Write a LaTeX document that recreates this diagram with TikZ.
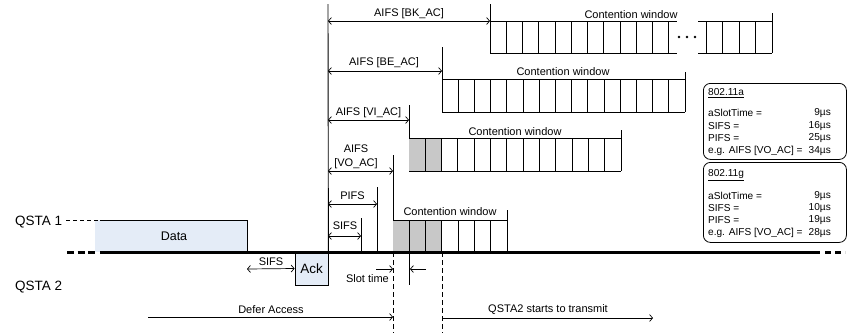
\documentclass[tikz,border=0pt]{standalone}
\usepackage{fontspec}
\setmainfont{Liberation Sans}
\usetikzlibrary{arrows.meta, positioning}

\definecolor{frame_blue}{HTML}{E4ECF7}
\definecolor{slot_gray}{HTML}{C8C8C8}

\begin{document}
\begin{tikzpicture}[x=1pt, y=-1pt,
        txt_sta/.style={font=\fontsize{13.5}{16}\selectfont, anchor=west, inner sep=0pt},
        txt_lbl/.style={font=\fontsize{11}{14}\selectfont, inner sep=0pt, align=center},
        txt_info/.style={font=\fontsize{10.1}{12}\selectfont, inner sep=0pt},
        box_frame/.style={draw, fill=frame_blue, line width=0.8pt, minimum width=33pt, minimum height=33pt, inner sep=0pt, font=\fontsize{13.5}{16}\selectfont},
        box_info/.style={draw, rounded corners=7pt, line width=0.8pt, minimum width=143pt, anchor=north west},
        cell_line/.style={line width=1pt},
        line_mark/.style={line width=0.9pt},
        line_busy/.style={line width=3pt},
        line_split/.style={line width=0.9pt, dash pattern=on 5pt off 3pt},
        arrow_dim/.style={{Straight Barb[length=3pt,width=7pt]}-{Straight Barb[length=3pt,width=7pt]}, line width=0.7pt},
        arrow_one/.style={-{Straight Barb[length=3pt,width=7pt]}, line width=0.7pt}
    ]
    \useasboundingbox (0,0) rectangle (847,333);

    % ==================== Stations ====================
    \node[txt_sta] (sta1) at (15,222) {QSTA 1};
    \node[txt_sta] (sta2) at (15,287) {QSTA 2};

    % Data frame of QSTA 1
    \fill[frame_blue] (95,220) rectangle (247,252);
    \draw[line width=0.8pt, dash pattern=on 4pt off 3pt] (66,220) -- (100,220);
    \draw[line width=0.8pt] (100,220) -- (247,220) -- (247,252);
    \node[txt_sta, anchor=center, font=\fontsize{12.5}{15}\selectfont] (data) at (174,236) {Data};

    % Ack of QSTA 2
    \node[box_frame] (ack) at (311.5,268.5) {Ack};
    \coordinate (data_end) at (247,269);
    \draw[arrow_dim] (data_end) -- (ack.west);
    \node[txt_lbl] (lbl_sifs_ack) at (271,262) {SIFS};

    % ==================== Inter frame spaces ====================
    \coordinate (ifs_top) at (328,4);
    \draw[line_mark] (ifs_top) -- (ack.north east);

    \coordinate (end_bk) at (490,21);
    \coordinate (end_be) at (442,71);
    \coordinate (end_vi) at (409,120);
    \coordinate (end_vo) at (393,171);
    \coordinate (end_pifs) at (377,204);
    \coordinate (end_sifs) at (361,236);

    \draw[arrow_dim] (ifs_top |- end_bk) -- (end_bk);
    \draw[arrow_dim] (ifs_top |- end_be) -- (end_be);
    \draw[arrow_dim] (ifs_top |- end_vi) -- (end_vi);
    \draw[arrow_dim] (ifs_top |- end_vo) -- (end_vo);
    \draw[arrow_dim] (ifs_top |- end_pifs) -- (end_pifs);
    \draw[arrow_dim] (ifs_top |- end_sifs) -- (end_sifs);

    \draw[line_mark] (490,4) -- (490,53);
    \draw[line_mark] (442,47) -- (442,112);
    \draw[line_mark] (409,105) -- (409,171);
    \draw[line_mark] (393,155) -- (393,252);
    \draw[line_mark] (377,187) -- (377,252);
    \draw[line_mark] (361,218) -- (361,252);

    \node[txt_lbl] (lbl_bk) at (409,14) {AIFS [BK\_AC]};
    \node[txt_lbl] (lbl_be) at (384,63) {AIFS [BE\_AC]};
    \node[txt_lbl] (lbl_vi) at (368.5,113) {AIFS [VI\_AC]};
    \node[txt_lbl] (lbl_vo) at (356,157) {AIFS\\{[VO\_AC]}};
    \node[txt_lbl] (lbl_pifs) at (352.5,196) {PIFS};
    \node[txt_lbl] (lbl_sifs) at (345,226) {SIFS};

    % ==================== Contention windows ====================
    % BK_AC
    \draw[cell_line] (490,21) -- (677,21) (490,53) -- (677,53);
    \foreach \i in {1,...,11} \draw[cell_line] ({490+\i*16.27},21) -- ++(0,32);
    \foreach \x in {679,687,695} \fill (\x,37) circle (1.3pt);
    \draw[cell_line] (698,21) -- (772,21) (698,53) -- (772,53);
    \foreach \x in {706,722.5,739,755.5} \draw[cell_line] (\x,21) -- (\x,53);
    \draw[cell_line] (772,13) -- (772,53);
    \node[txt_lbl] (cw_bk) at (631,15) {Contention window};

    % BE_AC
    \draw[cell_line] (442,79) -- (685,79) (442,112) -- (685,112);
    \foreach \i in {1,...,14} \draw[cell_line] ({442+\i*16.2},79) -- ++(0,33);
    \draw[cell_line] (685,72) -- (685,112);
    \node[txt_lbl] (cw_be) at (563,72) {Contention window};

    % VI_AC
    \fill[slot_gray] (409,138) rectangle (441.6,171);
    \draw[cell_line] (409,138) -- (621,138) (409,171) -- (621,171);
    \foreach \i in {1,...,12} \draw[cell_line] ({409+\i*16.3},138) -- ++(0,33);
    \draw[cell_line] (621,130) -- (621,171);
    \node[txt_lbl] (cw_vi) at (515,132) {Contention window};

    % VO_AC (QSTA 2)
    \fill[slot_gray] (393,220) rectangle (441.9,252);
    \draw[cell_line] (393,220) -- (507,220);
    \foreach \i in {1,...,6} \draw[cell_line] ({393+\i*16.3},220) -- ++(0,32);
    \draw[cell_line] (507,210) -- (507,252);
    \node[txt_lbl] (cw_vo) at (450,212) {Contention window};

    % ==================== Medium ====================
    \draw[line_busy] (100,252) -- (820,252);
    \draw[line_busy, dash pattern=on 7pt off 3.5pt] (67,252) -- (96,252);
    \draw[line_busy, dash pattern=on 6pt off 4pt] (825,252) -- (845,252);

    % Slot time
    \coordinate (slot_a) at (393,269);
    \coordinate (slot_b) at (410,269);
    \draw[line_mark] (409,252) -- (409,285);
    \draw[arrow_one] (376,269) -- (slot_a);
    \draw[arrow_one] (426,269) -- (slot_b);
    \node[txt_lbl, anchor=east] (lbl_slot) at (389,279) {Slot time};

    % Defer and transmit
    \coordinate (defer_end) at (393,317);
    \coordinate (tx_start) at (442,318);
    \draw[line_split] (393,252) -- (393,333);
    \draw[line_split] (442,252) -- (442,333);
    \draw[arrow_one] (148,317) -- (defer_end);
    \draw[arrow_one] (tx_start) -- (653,318);
    \node[txt_lbl] (lbl_defer) at (271,310) {Defer Access};
    \node[txt_lbl] (lbl_tx) at (548,310) {QSTA2 starts to transmit};

    % ==================== Parameters ====================
    \node[box_info, minimum height=76pt] (info_a) at (703,83) {};
    \node[txt_info, anchor=west] (head_a) at (708,93) {\underline{802.11a}};
    \node[txt_info, anchor=west] (a_slot) at (708,113.3) {aSlotTime =};
    \node[txt_info, anchor=west] (a_sifs) at (708,125.8) {SIFS =};
    \node[txt_info, anchor=west] (a_pifs) at (708,138.3) {PIFS =};
    \node[txt_info, anchor=west] (a_aifs) at (708,150.8) {e.g. AIFS [VO\_AC] =};
    \node[txt_info, anchor=east] (a_slot_v) at (831,113.3) {9µs};
    \node[txt_info, anchor=east] (a_sifs_v) at (831,125.8) {16µs};
    \node[txt_info, anchor=east] (a_pifs_v) at (831,138.3) {25µs};
    \node[txt_info, anchor=east] (a_aifs_v) at (831,150.8) {34µs};

    \node[box_info, minimum height=80pt] (info_g) at (703,162) {};
    \node[txt_info, anchor=west] (head_g) at (708,175) {\underline{802.11g}};
    \node[txt_info, anchor=west] (g_slot) at (708,195.7) {aSlotTime =};
    \node[txt_info, anchor=west] (g_sifs) at (708,207.8) {SIFS =};
    \node[txt_info, anchor=west] (g_pifs) at (708,220) {PIFS =};
    \node[txt_info, anchor=west] (g_aifs) at (708,232.7) {e.g. AIFS [VO\_AC] =};
    \node[txt_info, anchor=east] (g_slot_v) at (831,195.7) {9µs};
    \node[txt_info, anchor=east] (g_sifs_v) at (831,207.8) {10µs};
    \node[txt_info, anchor=east] (g_pifs_v) at (831,220) {19µs};
    \node[txt_info, anchor=east] (g_aifs_v) at (831,232.7) {28µs};

\end{tikzpicture}
\end{document}
